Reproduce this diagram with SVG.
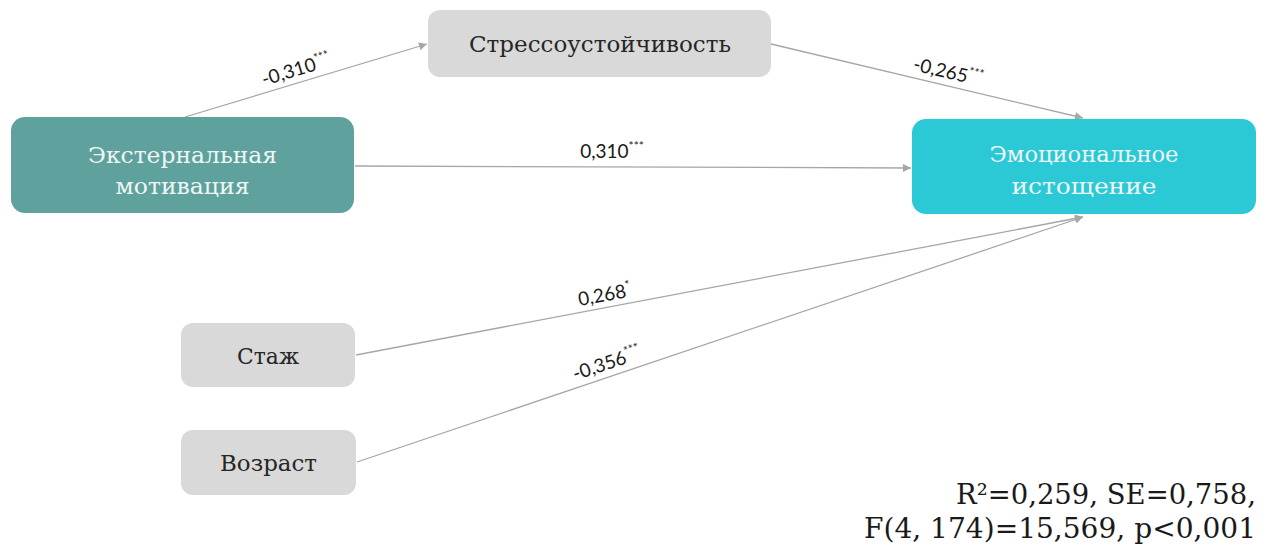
<svg xmlns="http://www.w3.org/2000/svg" width="1275" height="545" viewBox="0 0 1275 545">
<style>
.node-grey{fill:#d9d9d9;}
.node-teal{fill:#5fa19d;}
.node-cyan{fill:#2bc8d5;}
.nt{font-family:"DejaVu Serif","Liberation Serif",serif;font-size:22px;text-anchor:middle;}
.dark{fill:#262626;}
.light{fill:#eef7f6;}
.edge{stroke:#a6a6a6;stroke-width:1.3;fill:none;marker-end:url(#arr);}
.lbl{font-family:Lato,"Open Sans",sans-serif;font-size:19px;fill:#1a1a1a;text-anchor:middle;}
.sup{font-size:12px;}
.stat{font-family:"DejaVu Serif","Liberation Serif",serif;font-size:28px;fill:#1a1a1a;text-anchor:end;}
</style>
<defs>
<marker id="arr" viewBox="0 0 10 10" refX="10" refY="5" markerWidth="10" markerHeight="8" markerUnits="userSpaceOnUse" orient="auto">
<path d="M0,0 L10,5 L0,10 z" fill="#a6a6a6"/>
</marker>
</defs>
<rect width="1275" height="545" fill="#ffffff"/>
<g id="connectors">
<line class="edge" x1="185" y1="117" x2="427" y2="44"/>
<line class="edge" x1="771" y1="44" x2="1083" y2="118"/>
<line class="edge" x1="355" y1="166" x2="911" y2="168"/>
<line class="edge" x1="356" y1="355" x2="1083" y2="217"/>
<line class="edge" x1="357" y1="462" x2="1083" y2="217"/>
<text class="lbl" transform="translate(300,82.5) rotate(-16.7)" y="-7">-0,310<tspan class="sup" dy="-8">***</tspan></text>
<text class="lbl" transform="translate(945,85) rotate(13.3)" y="-7">-0,265<tspan class="sup" dy="-8">***</tspan></text>
<text class="lbl" x="612" y="158">0,310<tspan class="sup" dy="-8">***</tspan></text>
<text class="lbl" transform="translate(607,308) rotate(-10.6)" y="-7">0,268<tspan class="sup" dy="-8">*</tspan></text>
<text class="lbl" transform="translate(611,376) rotate(-18.5)" y="-7">-0,356<tspan class="sup" dy="-8">***</tspan></text>
</g>
<g id="stress">
<rect class="node-grey" x="428" y="10" width="343" height="67" rx="12"/>
<text class="nt dark" x="600" y="52" textLength="262" lengthAdjust="spacingAndGlyphs">Стрессоустойчивость</text>
</g>
<g id="external">
<rect class="node-teal" x="11" y="117" width="343" height="96" rx="14"/>
<text class="nt light" x="182.5" y="163" textLength="189" lengthAdjust="spacingAndGlyphs">Экстернальная</text>
<text class="nt light" x="182.5" y="194" textLength="134" lengthAdjust="spacingAndGlyphs">мотивация</text>
</g>
<g id="exhaustion">
<rect class="node-cyan" x="912" y="119" width="344" height="95" rx="14"/>
<text class="nt light" x="1084" y="162" textLength="189" lengthAdjust="spacingAndGlyphs">Эмоциональное</text>
<text class="nt light" x="1084" y="194" textLength="145" lengthAdjust="spacingAndGlyphs">истощение</text>
</g>
<g id="staj">
<rect class="node-grey" x="181" y="323" width="174" height="64" rx="12"/>
<text class="nt dark" x="268" y="364" textLength="62" lengthAdjust="spacingAndGlyphs">Стаж</text>
</g>
<g id="vozrast">
<rect class="node-grey" x="181" y="430" width="175" height="65" rx="12"/>
<text class="nt dark" x="268.5" y="471" textLength="97" lengthAdjust="spacingAndGlyphs">Возраст</text>
</g>
<g id="stats">
<text class="stat" x="1256" y="504" textLength="300" lengthAdjust="spacingAndGlyphs">R²=0,259, SE=0,758,</text>
<text class="stat" x="1256" y="538" textLength="392" lengthAdjust="spacingAndGlyphs">F(4, 174)=15,569, p&lt;0,001</text>
</g>
</svg>
